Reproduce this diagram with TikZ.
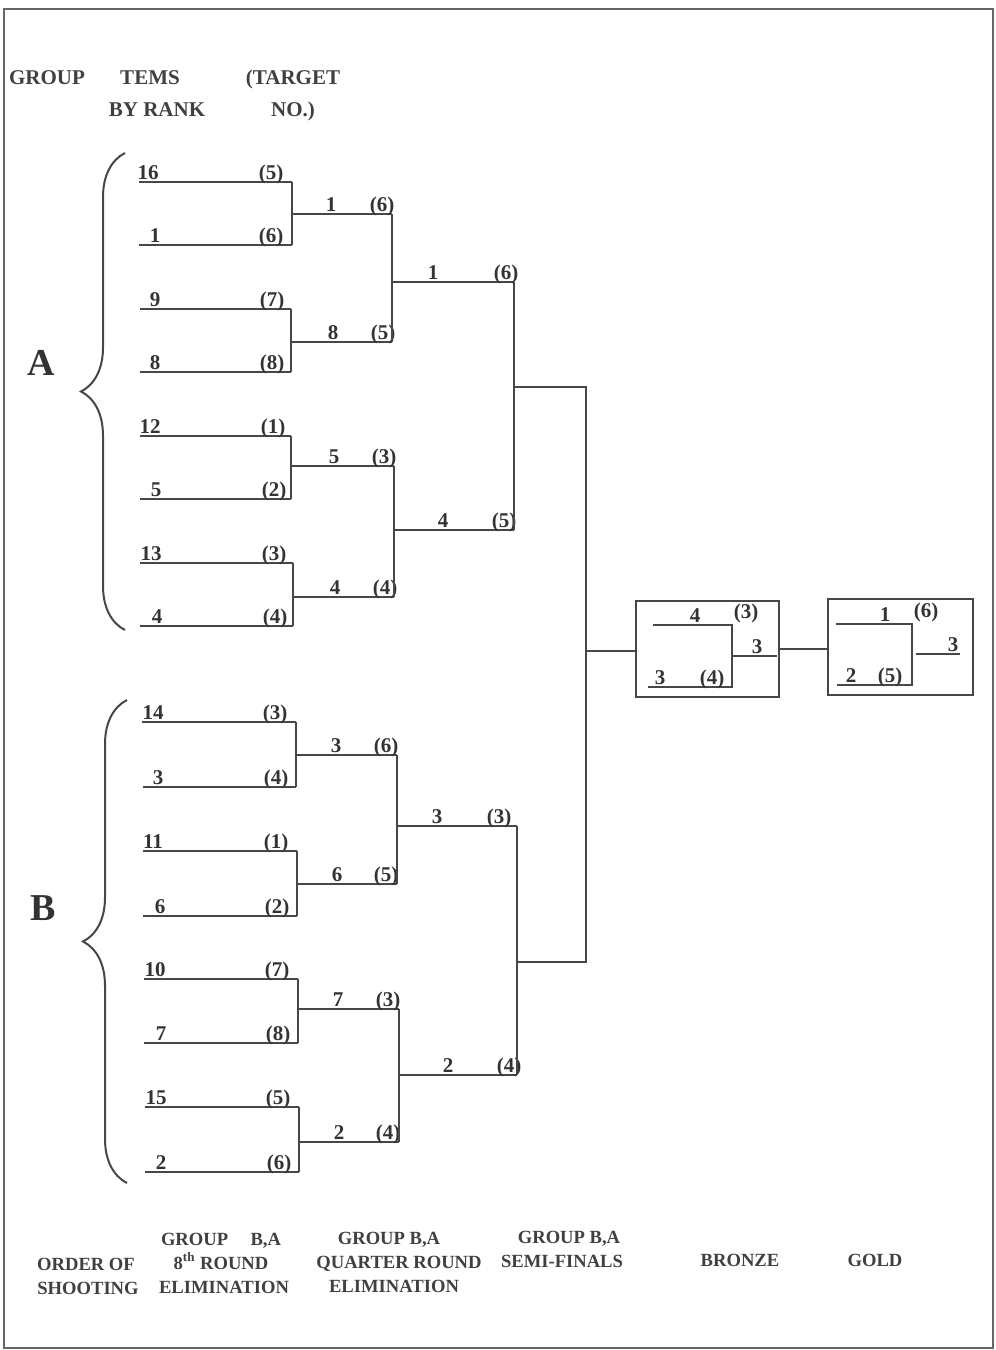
\documentclass[tikz,border=0pt]{standalone}
\usepackage{fontspec}
\setmainfont{Liberation Serif}
\usetikzlibrary{decorations.pathreplacing}

\tikzset{
  ln/.style={draw=black!72, line width=1pt},
  lbl/.style={anchor=base, inner sep=0pt, text=black!80, yshift=1.5pt,
    font=\fontsize{10.5}{12}\selectfont\bfseries},
  hd/.style={anchor=base, inner sep=0pt, text=black!75,
    font=\fontsize{10.5}{12}\selectfont\bfseries},
  ft/.style={anchor=base, inner sep=0pt, text=black!75,
    font=\fontsize{9.3}{11}\selectfont\bfseries},
  grp/.style={anchor=base, inner sep=0pt, text=black!80,
    font=\fontsize{19}{22}\selectfont\bfseries},
  brc/.style={draw=black!72, line width=1pt, decorate,
    decoration={brace, amplitude=22pt}},
  medalbox/.style={draw=black!72, line width=1pt, inner sep=0pt,
    minimum height=48pt},
}

\begin{document}
\begin{tikzpicture}[x=0.5pt, y=-0.5pt]
  \useasboundingbox (0,0) rectangle (996,1350);
  \draw[black!60, line width=0.8pt] (4,9) rectangle (993,1348);

  % headings
  \node[hd] (hgroup) at (47,84) {GROUP};
  \node[hd] (htems) at (150,84) {TEMS};
  \node[hd] (hrank) at (157,116) {BY RANK};
  \node[hd] (htarget) at (293,84) {(TARGET};
  \node[hd] (hno) at (293,116) {NO.)};

  % groups
  \draw[brc] (125,630) -- (125,153);
  \draw[brc] (127,1183) -- (127,700);
  \node[grp] (groupA) at (41,375) {A};
  \node[grp] (groupB) at (43,920) {B};

  % 8th round
  \foreach \n/\xw/\xe/\y/\rx/\rk/\tx/\tg in {
      a1/139/292/182/148/16/271/5, a2/139/292/245/155/1/271/6,
      a3/140/291/309/155/9/272/7,  a4/140/291/372/155/8/272/8,
      a5/140/291/436/150/12/273/1, a6/140/291/499/156/5/274/2,
      a7/140/293/563/151/13/274/3, a8/140/293/626/157/4/275/4,
      b1/142/296/722/153/14/275/3, b2/143/296/787/158/3/276/4,
      b3/143/297/851/153/11/276/1, b4/143/297/916/160/6/277/2,
      b5/144/298/979/155/10/277/7, b6/144/298/1043/161/7/278/8,
      b7/145/299/1107/156/15/278/5, b8/145/299/1172/161/2/279/6}{
    \coordinate (\n w) at (\xw,\y);
    \coordinate (\n e) at (\xe,\y);
    \draw[ln] (\n w) -- (\n e);
    \node[lbl] (\n rank) at (\rx,\y) {\rk};
    \node[lbl] (\n tgt) at (\tx,\y) {(\tg)};
  }
  \draw[ln] (a1e) -- (a2e);
  \draw[ln] (a3e) -- (a4e);
  \draw[ln] (a5e) -- (a6e);
  \draw[ln] (a7e) -- (a8e);
  \draw[ln] (b1e) -- (b2e);
  \draw[ln] (b3e) -- (b4e);
  \draw[ln] (b5e) -- (b6e);
  \draw[ln] (b7e) -- (b8e);

  % quarter round
  \foreach \n/\xw/\xe/\y/\wx/\wk/\tx/\tg in {
      qa1/292/392/214/331/1/382/6, qa2/291/392/342/333/8/383/5,
      qa3/291/394/466/334/5/384/3, qa4/293/394/597/335/4/385/4,
      qb1/296/397/755/336/3/386/6, qb2/297/397/884/337/6/386/5,
      qb3/298/399/1009/338/7/388/3, qb4/299/399/1142/339/2/388/4}{
    \coordinate (\n w) at (\xw,\y);
    \coordinate (\n e) at (\xe,\y);
    \draw[ln] (\n w) -- (\n e);
    \node[lbl] (\n rank) at (\wx,\y) {\wk};
    \node[lbl] (\n tgt) at (\tx,\y) {(\tg)};
  }
  \draw[ln] (qa1e) -- (qa2e);
  \draw[ln] (qa3e) -- (qa4e);
  \draw[ln] (qb1e) -- (qb2e);
  \draw[ln] (qb3e) -- (qb4e);

  % semi-finals
  \foreach \n/\xw/\xe/\y/\wx/\wk/\tx/\tg in {
      sa1/392/514/282/433/1/506/6, sa2/394/514/530/443/4/504/5,
      sb1/397/517/826/437/3/499/3, sb2/399/517/1075/448/2/509/4}{
    \coordinate (\n w) at (\xw,\y);
    \coordinate (\n e) at (\xe,\y);
    \draw[ln] (\n w) -- (\n e);
    \node[lbl] (\n rank) at (\wx,\y) {\wk};
    \node[lbl] (\n tgt) at (\tx,\y) {(\tg)};
  }
  \draw[ln] (sa1e) -- (sa2e);
  \draw[ln] (sb1e) -- (sb2e);
  \coordinate (faw) at (514,387);
  \coordinate (fae) at (586,387);
  \coordinate (fbw) at (517,962);
  \coordinate (fbe) at (586,962);
  \draw[ln] (faw) -- (fae) -- (fbe) -- (fbw);
  \coordinate (semiout) at (586,651);

  % bronze
  \node[medalbox, minimum width=71.5pt] (bronze) at (707.5,649) {};
  \draw[ln] (semiout) -- (semiout -| bronze.west);
  \coordinate (br1w) at (653,625);
  \coordinate (br1e) at (732,625);
  \coordinate (br2w) at (648,687);
  \coordinate (br2e) at (732,687);
  \coordinate (brow) at (732,656);
  \coordinate (broe) at (777,656);
  \draw[ln] (br1w) -- (br1e) -- (br2e) -- (br2w);
  \draw[ln] (brow) -- (broe);
  \node[lbl] (br1rank) at (695,625) {4};
  \node[lbl] (br1tgt) at (746,621) {(3)};
  \node[lbl] (br2rank) at (660,687) {3};
  \node[lbl] (br2tgt) at (712,687) {(4)};
  \node[lbl] (brwin) at (757,656) {3};

  % gold
  \node[medalbox, minimum width=72.5pt] (gold) at (900.5,647) {};
  \draw[ln] (bronze.east) -- (bronze.east -| gold.west);
  \coordinate (go1w) at (836,624);
  \coordinate (go1e) at (912,624);
  \coordinate (go2w) at (837,685);
  \coordinate (go2e) at (912,685);
  \coordinate (gow) at (916,654);
  \coordinate (goe) at (960,654);
  \draw[ln] (go1w) -- (go1e) -- (go2e) -- (go2w);
  \draw[ln] (gow) -- (goe);
  \node[lbl] (go1rank) at (885,624) {1};
  \node[lbl] (go1tgt) at (926,620) {(6)};
  \node[lbl] (go2rank) at (851,685) {2};
  \node[lbl] (go2tgt) at (890,685) {(5)};
  \node[lbl] (gowin) at (953,654) {3};

  % footings
  \node[ft] (forder) at (86,1270) {ORDER OF};
  \node[ft] (fshoot) at (88,1294) {SHOOTING};
  \node[ft] (f8a) at (221,1245) {GROUP\hspace{1.2em}B,A};
  \node[ft] (f8b) at (221,1269) {8\textsuperscript{th} ROUND};
  \node[ft] (f8c) at (224,1293) {ELIMINATION};
  \node[ft] (fqa) at (389,1244) {GROUP B,A};
  \node[ft] (fqb) at (399,1268) {QUARTER ROUND};
  \node[ft] (fqc) at (394,1292) {ELIMINATION};
  \node[ft] (fsa) at (569,1243) {GROUP B,A};
  \node[ft] (fsb) at (562,1267) {SEMI-FINALS};
  \node[ft] (fbronze) at (740,1266) {BRONZE};
  \node[ft] (fgold) at (875,1266) {GOLD};
\end{tikzpicture}
\end{document}
